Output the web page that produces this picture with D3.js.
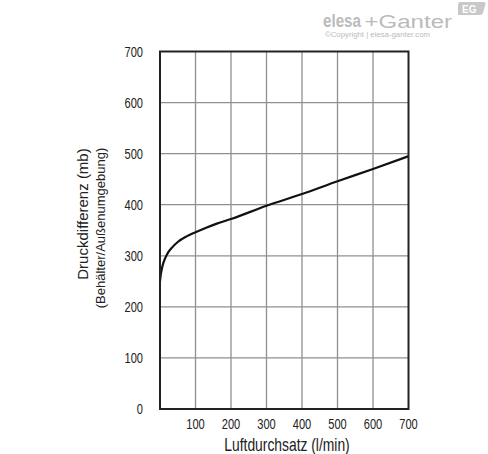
<!DOCTYPE html>
<html><head><meta charset="utf-8">
<script src="https://cdn.jsdelivr.net/npm/d3@7"></script>
<style>body{margin:0;background:#fff}svg{display:block}text{font-family:"Liberation Sans",Arial,sans-serif}</style>
</head><body>
<script>
const flow = [0, 2, 5, 10, 20, 35, 50, 75, 100, 130, 160, 200, 300, 400, 500, 600, 700];
const pressure = [250, 262, 274, 287, 303, 317, 327, 338, 346, 355, 363, 372, 398, 421, 446, 470, 495];
const xTicks = [100, 200, 300, 400, 500, 600, 700];
const yTicks = [0, 100, 200, 300, 400, 500, 600, 700];
const xTitle = "Luftdurchsatz (l/min)";
const yTitle1 = "Druckdifferenz (mb)";
const yTitle2 = "(Behälter/Außenumgebung)";

const W = 488, H = 454;
const svg = d3.select("body").append("svg").attr("width", W).attr("height", H);
const x = d3.scaleLinear().domain([0, 700]).range([160, 408.5]);
const y = d3.scaleLinear().domain([0, 700]).range([409, 51.5]);
const SX = 0.74;

// grid
const g = svg.append("g");
g.selectAll("line.v").data(xTicks.slice(0, -1)).join("line")
  .attr("x1", d => x(d)).attr("x2", d => x(d)).attr("y1", y(0)).attr("y2", y(700))
  .attr("stroke", "#8f8f8f").attr("stroke-width", 1.3);
g.selectAll("line.h").data(yTicks.slice(1, -1)).join("line")
  .attr("y1", d => y(d)).attr("y2", d => y(d)).attr("x1", x(0)).attr("x2", x(700))
  .attr("stroke", "#8f8f8f").attr("stroke-width", 1.3);

// curve
const line = d3.line().x((d, i) => x(flow[i])).y(d => y(d)).curve(d3.curveMonotoneX);
svg.append("path").attr("d", line(pressure)).attr("fill", "none")
  .attr("stroke", "#111").attr("stroke-width", 2.2);

// frame
svg.append("rect").attr("x", x(0)).attr("y", y(700)).attr("width", x(700) - x(0)).attr("height", y(0) - y(700))
  .attr("fill", "none").attr("stroke", "#222").attr("stroke-width", 2);

// tick labels
svg.selectAll("text.xt").data(xTicks).join("text")
  .attr("transform", d => `translate(${x(d)},429) scale(${SX},1)`)
  .attr("text-anchor", "middle").attr("font-size", 15).attr("fill", "#222").text(d => d);
svg.selectAll("text.yt").data(yTicks).join("text")
  .attr("transform", d => `translate(143,${y(d) + 5.3}) scale(${SX},1)`)
  .attr("text-anchor", "end").attr("font-size", 15).attr("fill", "#222").text(d => d);

// titles
svg.append("text").attr("transform", `translate(287,451) scale(0.77,1)`)
  .attr("text-anchor", "middle").attr("font-size", 18).attr("fill", "#222").text(xTitle);
svg.append("text").attr("transform", `translate(88,214) rotate(-90)`)
  .attr("text-anchor", "middle").attr("font-size", 15).attr("fill", "#222").text(yTitle1);
svg.append("text").attr("transform", `translate(105,228) rotate(-90)`)
  .attr("text-anchor", "middle").attr("font-size", 13).attr("fill", "#222").text(yTitle2);

// logo
const logo = svg.append("g").attr("fill", "#bbbbbb");
logo.append("text").attr("x", 323).attr("y", 27).attr("font-size", 18).attr("font-weight", "bold")
  .attr("textLength", 38).attr("lengthAdjust", "spacingAndGlyphs").text("elesa");
logo.append("text").attr("x", 364.5).attr("y", 27.5).attr("font-size", 18)
  .attr("textLength", 87.5).attr("lengthAdjust", "spacingAndGlyphs").text("+Ganter");
logo.append("text").attr("x", 325).attr("y", 37).attr("font-size", 7)
  .attr("textLength", 105).attr("lengthAdjust", "spacingAndGlyphs").text("©Copyright | elesa-ganter.com");
logo.append("path").attr("d", "M460,2 L484,2 Q486,2 485.5,4 L483,13 Q482.5,15 480,15 L458,15 L458,6 Q458,2 460,2 Z").attr("fill", "#c8c8c8");
logo.append("text").attr("x", 462).attr("y", 12.5).attr("font-size", 10).attr("font-weight", "bold")
  .attr("fill", "#fff").text("EG");
</script>
</body></html>
